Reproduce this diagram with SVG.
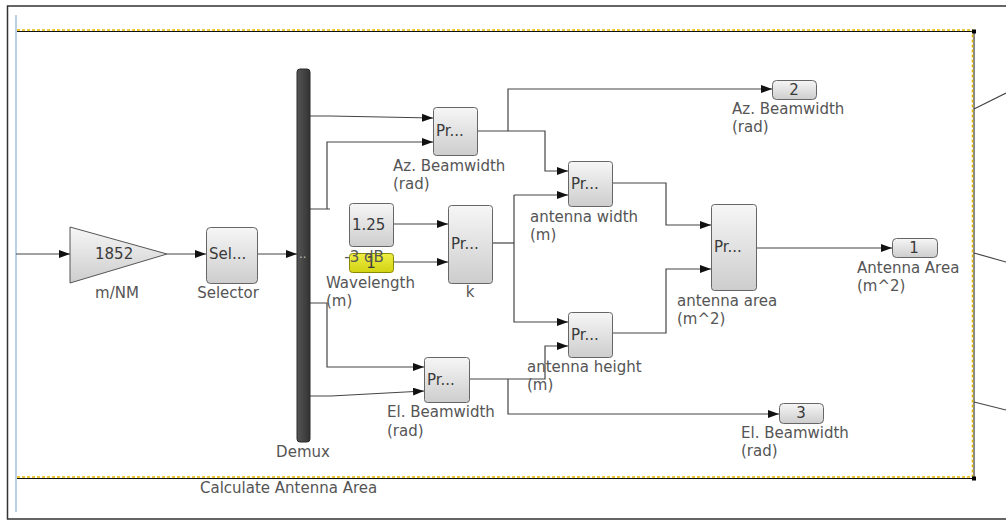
<svg xmlns="http://www.w3.org/2000/svg" width="1006" height="521" viewBox="0 0 1006 521">
<defs>
<linearGradient id="gblk" x1="0" y1="0" x2="0" y2="1"><stop offset="0" stop-color="#f6f6f6"/><stop offset="1" stop-color="#cdcdcd"/></linearGradient>
<linearGradient id="gyel" x1="0" y1="0" x2="0" y2="1"><stop offset="0" stop-color="#eeee44"/><stop offset="1" stop-color="#d2d214"/></linearGradient>
<linearGradient id="gdmx" x1="0" y1="0" x2="1" y2="0"><stop offset="0" stop-color="#555"/><stop offset="1" stop-color="#333"/></linearGradient>
<marker id="arr" markerUnits="userSpaceOnUse" markerWidth="12" markerHeight="10" refX="11" refY="4" orient="auto"><path d="M0,0 L11,4 L0,8 Z" fill="#111"/></marker>
<style>
.blk{fill:url(#gblk);stroke:#666;stroke-width:1}
.t{font-family:"DejaVu Sans",sans-serif;font-size:15px;fill:#3a3a3a}
.lb{font-family:"DejaVu Sans",sans-serif;font-size:15px;fill:#555}
.c{fill:none;stroke:#444;stroke-width:1.2}
.a{marker-end:url(#arr)}
</style>
</defs>
<rect x="0" y="0" width="1006" height="521" fill="#fff"/>
<path d="M1006,6 H7.5 V519 H1006" fill="none" stroke="#333" stroke-width="1.5"/>
<line x1="16" y1="15" x2="16" y2="512" stroke="#8fb0d8" stroke-width="1.2"/>
<g id="subsystem">
<path d="M17,31.5 H974 V478.5 H17" fill="none" stroke="#111" stroke-width="1"/>
<path d="M17,30 H972.5 V477 H17" fill="none" stroke="#e6b800" stroke-width="1.6" stroke-dasharray="3,2"/>
<rect x="972" y="29.5" width="4" height="4" fill="#000"/>
<rect x="972" y="476.5" width="4" height="4" fill="#000"/>
<text class="lb" x="200" y="493">Calculate Antenna Area</text>
</g>
<g id="connectors">
<path class="c" d="M974,109 L1006,93"/>
<path class="c" d="M974,253 L1006,262"/>
<path class="c" d="M974,402 L1006,410"/>
<path class="c a" d="M16,254 H70"/>
<path class="c a" d="M167,254 H206"/>
<path class="c a" d="M257,254 H297"/>
<path class="c a" d="M310,116 L330,116 L433,118"/>
<path class="c a" d="M310,209 H330 M327,209 V142 H433"/>
<path class="c a" d="M310,303 H327 V367 H424"/>
<path class="c a" d="M310,396 L331,396 L424,391"/>
<path class="c a" d="M393,224 H448"/>
<path class="c a" d="M393,262 H448"/>
<path class="c a" d="M477,131 H508 V89 H772"/>
<path class="c a" d="M508,131 H545 V171 H568"/>
<path class="c" d="M492,243 H514"/>
<path class="c a" d="M514,195 H568"/>
<path class="c a" d="M514,195 V322 H568"/>
<path class="c a" d="M469,379 H545 V346 H568"/>
<path class="c a" d="M508,379 V414 H779"/>
<path class="c a" d="M612,183 H666 V225 H711"/>
<path class="c a" d="M612,333 H666 V269 H711"/>
<path class="c a" d="M756,248 H892"/>
</g>
<g id="gain">
<path d="M70,227 L167,254 L70,283 Z" fill="url(#gblk)" stroke="#555" stroke-width="1"/>
<text class="t" x="95" y="259">1852</text>
<text class="lb" x="117" y="298" text-anchor="middle">m/NM</text>
</g>
<g id="selector">
<rect class="blk" x="206.5" y="227.5" width="51" height="56" rx="4"/>
<text class="t" x="209" y="259">Sel...</text>
<text class="lb" x="228" y="298" text-anchor="middle">Selector</text>
</g>
<g id="demux">
<rect x="297" y="69" width="13" height="373" rx="3" fill="url(#gdmx)" stroke="#2a2a2a" stroke-width="1"/>
<text x="299" y="258" font-family="DejaVu Sans,sans-serif" font-size="12" fill="#bbb">..</text>
<text class="lb" x="303" y="457" text-anchor="middle">Demux</text>
</g>
<g id="az-beamwidth">
<rect class="blk" x="433.5" y="107.5" width="44" height="48" rx="3"/>
<text class="t" x="436" y="136">Pr...</text>
<text class="lb" x="393" y="171">Az. Beamwidth</text>
<text class="lb" x="393" y="189">(rad)</text>
</g>
<g id="const-1">
<rect x="349.5" y="253.5" width="44" height="19" rx="3" fill="url(#gyel)" stroke="#8a8a00" stroke-width="1"/>
<text class="t" x="371" y="268" text-anchor="middle">1</text>
<text class="lb" x="326" y="288">Wavelength</text>
<text class="lb" x="326" y="306">(m)</text>
</g>
<g id="const-125">
<rect class="blk" x="349.5" y="203.5" width="44" height="43" rx="3"/>
<text class="t" x="352" y="230">1.25</text>
<text class="lb" x="364" y="262" text-anchor="middle">-3 dB</text>
</g>
<g id="k">
<rect class="blk" x="448.5" y="205.5" width="44" height="78" rx="3"/>
<text class="t" x="451" y="249">Pr...</text>
<text class="lb" x="470" y="297" text-anchor="middle">k</text>
</g>
<g id="antenna-width">
<rect class="blk" x="568.5" y="161.5" width="44" height="45" rx="3"/>
<text class="t" x="571" y="189">Pr...</text>
<text class="lb" x="530" y="222">antenna width</text>
<text class="lb" x="530" y="240">(m)</text>
</g>
<g id="antenna-height">
<rect class="blk" x="568.5" y="312.5" width="44" height="45" rx="3"/>
<text class="t" x="571" y="340">Pr...</text>
<text class="lb" x="527" y="372">antenna height</text>
<text class="lb" x="527" y="390">(m)</text>
</g>
<g id="el-beamwidth">
<rect class="blk" x="424.5" y="357.5" width="45" height="45" rx="3"/>
<text class="t" x="427" y="385">Pr...</text>
<text class="lb" x="387" y="417">El. Beamwidth</text>
<text class="lb" x="387" y="436">(rad)</text>
</g>
<g id="antenna-area">
<rect class="blk" x="711.5" y="204.5" width="45" height="86" rx="3"/>
<text class="t" x="714" y="252">Pr...</text>
<text class="lb" x="677" y="306">antenna area</text>
<text class="lb" x="677" y="324">(m^2)</text>
</g>
<g id="out-2">
<rect class="blk" x="772.5" y="80.5" width="44" height="19" rx="4"/>
<text class="t" x="794" y="95" text-anchor="middle">2</text>
<text class="lb" x="732" y="114">Az. Beamwidth</text>
<text class="lb" x="732" y="132">(rad)</text>
</g>
<g id="out-1">
<rect class="blk" x="892.5" y="238.5" width="45" height="19" rx="4"/>
<text class="t" x="914" y="253" text-anchor="middle">1</text>
<text class="lb" x="857" y="273">Antenna Area</text>
<text class="lb" x="857" y="291">(m^2)</text>
</g>
<g id="out-3">
<rect class="blk" x="779.5" y="403.5" width="44" height="20" rx="4"/>
<text class="t" x="801" y="418" text-anchor="middle">3</text>
<text class="lb" x="741" y="438">El. Beamwidth</text>
<text class="lb" x="741" y="456">(rad)</text>
</g>
</svg>
